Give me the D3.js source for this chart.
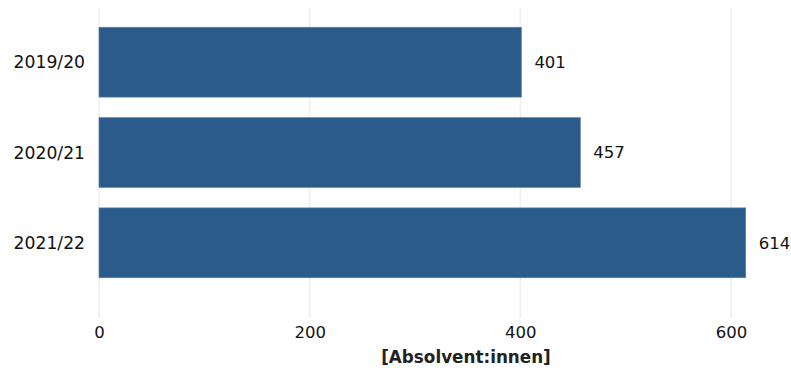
<!DOCTYPE html>
<html><head><meta charset="utf-8">
<script src="https://cdn.jsdelivr.net/npm/d3@7"></script>
<style>body{margin:0;background:#fff}svg{display:block}text{font-family:"DejaVu Sans",Verdana,sans-serif}</style>
</head><body>
<script>
const categories = ["2019/20","2020/21","2021/22"];
const values = [401, 457, 614];
const ticks = [0, 200, 400, 600];
const axisTitle = "[Absolvent:innen]";

const W = 791, H = 368;
const svg = d3.select("body").append("svg").attr("width", W).attr("height", H);
const x = d3.scaleLinear().domain([0, 600]).range([99, 731]);
const y = d3.scaleBand().domain(categories).range([17, 288]).paddingInner(0.226).paddingOuter(0.113);

// grid
svg.append("g").selectAll("line").data(ticks).join("line")
  .attr("x1", d => x(d)).attr("x2", d => x(d)).attr("y1", 8).attr("y2", 318)
  .attr("stroke", "#eeeeee").attr("stroke-width", 1.5);

// bars
svg.append("g").selectAll("rect").data(values).join("rect")
  .attr("x", x(0)).attr("y", (d,i) => y(categories[i]))
  .attr("width", d => x(d) - x(0)).attr("height", y.bandwidth())
  .attr("fill", "#2b5b8a").attr("stroke", "#5f82a8").attr("stroke-width", 0.6);

// value labels
svg.append("g").selectAll("text").data(values).join("text")
  .attr("x", d => x(d) + 13).attr("y", (d,i) => y(categories[i]) + y.bandwidth()/2)
  .attr("dy", "0.36em").attr("font-size", 16.5).attr("fill", "#111").text(d => d);

// category labels
svg.append("g").selectAll("text").data(categories).join("text")
  .attr("x", 85).attr("y", d => y(d) + y.bandwidth()/2)
  .attr("dy", "0.36em").attr("text-anchor", "end").attr("font-size", 17.2).attr("fill", "#111").text(d => d);

// x tick labels
const xAxis = svg.append("g").attr("transform", "translate(0,326)")
  .call(d3.axisBottom(x).tickValues(ticks).tickSize(0).tickPadding(0));
xAxis.select(".domain").remove();
xAxis.selectAll("text").attr("font-size", 16.5).attr("fill", "#111")
  .attr("font-family", "DejaVu Sans, Verdana, sans-serif");

// axis title
svg.append("text").attr("x", 466).attr("y", 357).attr("dy", "0.36em")
  .attr("text-anchor", "middle").attr("font-size", 16.8).attr("font-weight", "bold")
  .attr("fill", "#222").text(axisTitle);
</script>
</body></html>
